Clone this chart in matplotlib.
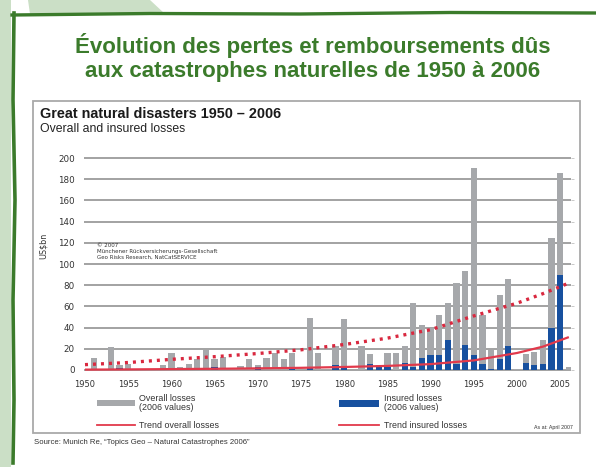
import matplotlib
matplotlib.use("Agg")
import matplotlib.pyplot as plt
from matplotlib.patches import Rectangle, Polygon
from matplotlib.lines import Line2D

plt.rcParams['font.family'] = ['Liberation Sans', 'DejaVu Sans']

# ---------------- data ----------------
years = list(range(1950, 2007))
overall = [0, 11, 0, 22, 5, 6, 0, 0, 0, 5,        # 1950-1959
           16, 3, 6, 10, 19, 10, 12, 0, 4, 10,     # 1960-1969
           5, 11, 16, 10, 16, 0, 49, 16, 0, 23,    # 1970-1979
           48, 0, 23, 15, 5, 16, 16, 23, 63, 42,   # 1980-1989
           40, 52, 63, 82, 93, 191, 52, 19, 71, 86,  # 1990-1999
           1, 15, 17, 28, 125, 186, 3]             # 2000-2006
insured = [0, 0, 0, 0, 2, 1, 0, 0, 0, 0,
           0, 0, 0, 0, 0, 3, 0, 0, 0, 0,
           3, 0, 0, 0, 3, 0, 2, 0, 0, 5,
           2, 0, 0, 6, 3, 3, 0, 7, 3, 11,
           14, 14, 28, 6, 24, 14, 6, 1, 10, 23,
           0, 7, 5, 6, 40, 90, 0]
trend_years = [1950, 1955, 1960, 1965, 1970, 1975, 1980, 1985, 1990, 1995, 2000, 2003, 2006]
trend_overall = [5, 7, 10, 12.5, 15.5, 19, 24, 30, 38, 51, 63, 72, 82]
trend_insured = [0.3, 0.5, 0.8, 1.1, 1.5, 2, 2.8, 3.8, 5.5, 9, 16, 22, 31]
xtick_years = [1950, 1955, 1960, 1965, 1970, 1975, 1980, 1985, 1990, 1995, 2000, 2005]
ytick_vals = [0, 20, 40, 60, 80, 100, 120, 140, 160, 180, 200]

# ---------------- figure ----------------
W, H = 596, 467
fig = plt.figure(figsize=(W / 100, H / 100), dpi=100)
fig.patch.set_facecolor('white')


def fx(x):
    return x / W


def fy(y):
    return 1 - y / H


def rect(x0, y0, x1, y1):
    return [fx(x0), fy(y1), (x1 - x0) / W, (y1 - y0) / H]


GREEN = '#3b7b2b'
LIGHT_GREEN = '#cbdfc6'

# decorative frame
fig.patches.append(Rectangle((0, 0), fx(11), 1, transform=fig.transFigure,
                             facecolor=LIGHT_GREEN, edgecolor='none', zorder=-3))
fig.patches.append(Polygon([(fx(28), fy(0)), (fx(150), fy(0)), (fx(165), fy(14)), (fx(30), fy(14))],
                           closed=True, transform=fig.transFigure,
                           facecolor=LIGHT_GREEN, edgecolor='none', zorder=-3))
fig.lines.append(Line2D([fx(12), fx(150), fx(300), fx(450), fx(596)],
                        [fy(15), fy(13.5), fy(14), fy(12.5), fy(13)],
                        transform=fig.transFigure, color=GREEN, lw=2.4, zorder=2))
fig.lines.append(Line2D([fx(14), fx(13), fx(15), fx(13), fx(14), fx(13)],
                        [fy(13), fy(100), fy(200), fy(300), fy(400), fy(463)],
                        transform=fig.transFigure, color=GREEN, lw=2.6, zorder=2))

# titles
fig.text(fx(313), fy(45), "Évolution des pertes et remboursements dûs",
         ha='center', va='center', color=GREEN, fontsize=16, fontweight='bold')
fig.text(fx(313), fy(72), "aux catastrophes naturelles de 1950 à 2006",
         ha='center', va='center', color=GREEN, fontsize=16, fontweight='bold')

# chart box
fig.patches.append(Rectangle((fx(33), fy(433)), (580 - 33) / W, (433 - 101) / H,
                             transform=fig.transFigure, facecolor='white',
                             edgecolor='#a9a9a9', lw=1.3, zorder=-1))
fig.text(fx(40), fy(114), "Great natural disasters 1950 – 2006", ha='left', va='center',
         fontsize=10.4, fontweight='bold', color='#1a1a1a')
fig.text(fx(40), fy(129), "Overall and insured losses", ha='left', va='center',
         fontsize=8.8, color='#222222')

# main axes
ax = fig.add_axes(rect(84, 157, 571, 371))
ax.set_zorder(1)
ax.set_facecolor('none')
x_left = 1950 - 1 / 8.64
x_right = 1950 + (571 - 85) / 8.64
ax.set_xlim(x_left, x_right)
ax.set_ylim(-1, 201)

for v in ytick_vals:
    ax.axhline(v, color='#9b9b9b', lw=1.3, zorder=1)

ax.bar(years, overall, width=0.72, color='#a6a8ab', zorder=2)
ax.bar(years, insured, width=0.72, color='#17509f', zorder=3)
ax.plot(trend_years, trend_insured, color='#e2394b', lw=1.6, zorder=4,
        solid_capstyle='butt')
ax.plot(trend_years, trend_overall, color='#d9283f', lw=2.4, zorder=5,
        linestyle=(0, (0.9, 1.5)))

for s in ax.spines.values():
    s.set_visible(False)
ax.set_xticks(xtick_years)
ax.set_xticklabels([str(y) for y in xtick_years], fontsize=6, family='DejaVu Sans',
                   color='#333333')
ax.set_yticks(ytick_vals)
ax.set_yticklabels([str(v) for v in ytick_vals], fontsize=6.3, family='DejaVu Sans',
                   color='#333333')
ax.tick_params(axis='x', length=0, pad=6.5)
ax.tick_params(axis='y', left=False, right=True, length=2.5, width=0.6,
               colors='#c0c0c0', labelcolor='#333333', pad=4, direction='out')
ax.set_ylabel("US$bn", fontsize=5.8, family='DejaVu Sans', color='#333333')
ax.yaxis.set_label_coords((48 - 84) / 487, (371 - 246) / 214)

ax.text(1951.4, 112, "© 2007\nMünchener Rückversicherungs-Gesellschaft\nGeo Risks Research, NatCatSERVICE",
        fontsize=4, color='#333333', va='center', ha='left', linespacing=1.25,
        family='DejaVu Sans', zorder=6)

# legend
fig.patches.append(Rectangle((fx(97), fy(406)), 38 / W, 6 / H, transform=fig.transFigure,
                             facecolor='#a6a8ab', edgecolor='none', zorder=3))
fig.patches.append(Rectangle((fx(339), fy(407)), 40 / W, 7 / H, transform=fig.transFigure,
                             facecolor='#17509f', edgecolor='none', zorder=3))
fig.lines.append(Line2D([fx(97), fx(135)], [fy(425), fy(425)], transform=fig.transFigure,
                        color='#e2394b', lw=1.3, zorder=3))
fig.lines.append(Line2D([fx(339), fx(379)], [fy(425), fy(425)], transform=fig.transFigure,
                        color='#e2394b', lw=1.3, zorder=3))
fig.text(fx(139), fy(403), "Overall losses\n(2006 values)", ha='left', va='center',
         fontsize=6.4, color='#333333', linespacing=1.0)
fig.text(fx(384), fy(403), "Insured losses\n(2006 values)", ha='left', va='center',
         fontsize=6.4, color='#333333', linespacing=1.0)
fig.text(fx(139), fy(425), "Trend overall losses", ha='left', va='center',
         fontsize=6.4, color='#333333')
fig.text(fx(384), fy(425), "Trend insured losses", ha='left', va='center',
         fontsize=6.4, color='#333333')
fig.text(fx(573), fy(427), "As at: April 2007", ha='right', va='center',
         fontsize=3.8, color='#333333')
fig.text(fx(34), fy(442), "Source: Munich Re, \u201cTopics Geo \u2013 Natural Catastrophes 2006\u201d",
         ha='left', va='center', fontsize=5.6, color='#333333')

fig.savefig("out.png", dpi=100, facecolor=fig.get_facecolor())
